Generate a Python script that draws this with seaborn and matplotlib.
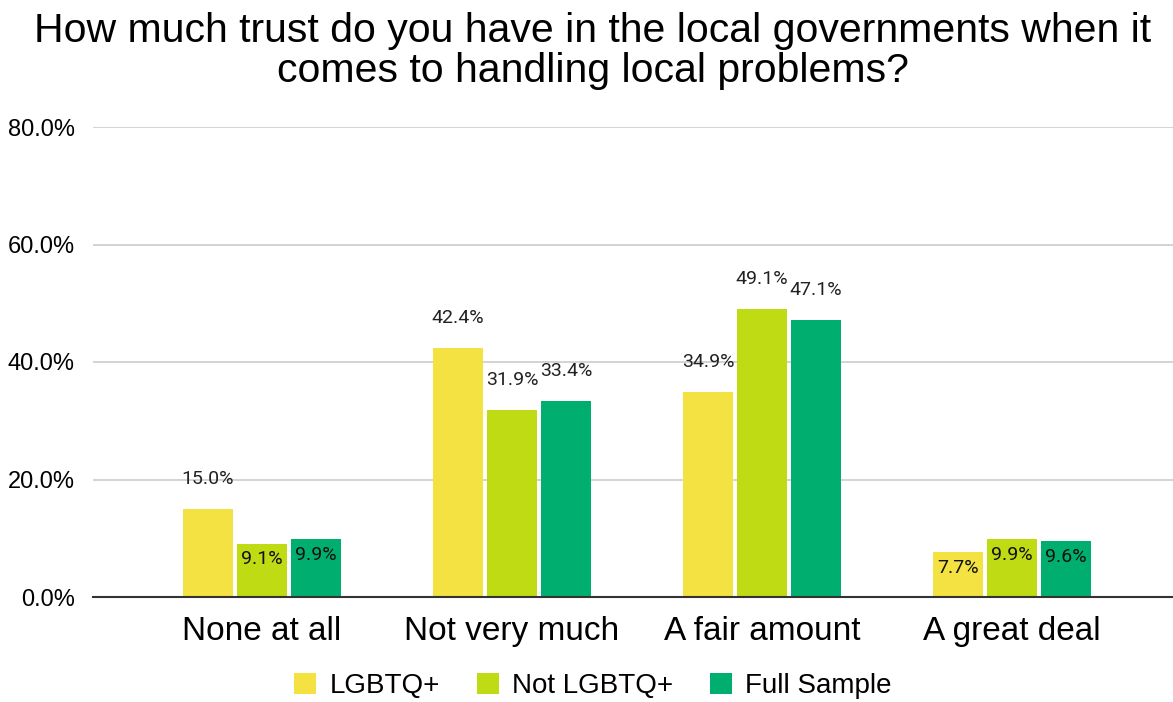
import matplotlib
matplotlib.use("Agg")
import matplotlib.pyplot as plt
import seaborn as sns
import pandas as pd
from matplotlib.ticker import FuncFormatter

categories = ["None at all", "Not very much", "A fair amount", "A great deal"]
series_names = ["LGBTQ+", "Not LGBTQ+", "Full Sample"]
lgbtq = [15.0, 42.4, 34.9, 7.7]
not_lgbtq = [9.1, 31.9, 49.1, 9.9]
full_sample = [9.9, 33.4, 47.1, 9.6]
colors = ["#F3E241", "#BFDB14", "#00AE6F"]

rows = []
for name, vals in zip(series_names, [lgbtq, not_lgbtq, full_sample]):
    for c, v in zip(categories, vals):
        rows.append({"cat": c, "group": name, "val": v})
df = pd.DataFrame(rows)

sns.set_theme(style="white")
plt.rcParams["font.family"] = ["Liberation Sans", "DejaVu Sans"]
plt.rcParams["text.color"] = "black"

fig = plt.figure(figsize=(11.73, 7.02), dpi=100)
ax = fig.add_axes([93/1173, 1-597/702, 1-93/1173, (597-127)/702])

sns.barplot(data=df, x="cat", y="val", hue="group", order=categories,
            hue_order=series_names, palette=colors, width=0.648, gap=0.074,
            saturation=1, ax=ax, legend=True, edgecolor="none")

ax.set_ylim(0, 80)
ax.set_xlim(-0.676, 3.644)
ax.set_yticks([0, 20, 40, 60, 80])
ax.yaxis.set_major_formatter(FuncFormatter(lambda v, p: f"{v:.1f}%"))
ax.grid(axis="y", color="#cccccc", linewidth=1.2)
ax.set_axisbelow(True)
for s in ["top", "right", "left"]:
    ax.spines[s].set_visible(False)
ax.spines["bottom"].set_color("#333333")
ax.spines["bottom"].set_linewidth(1.5)
ax.tick_params(axis="y", labelsize=17, pad=13, length=0, colors="black")
ax.tick_params(axis="x", labelsize=24, pad=14, length=0, colors="black")
ax.set_xlabel("")
ax.set_ylabel("")

for container in ax.containers:
    for bar in container:
        h = bar.get_height()
        x = bar.get_x() + bar.get_width()/2
        if h > 12:
            ax.annotate(f"{h:.1f}%", (x, h), xytext=(0, 15), textcoords="offset points",
                        ha="center", va="bottom", fontsize=14, family="Roboto", color="#222222")
        else:
            ax.annotate(f"{h:.1f}%", (x, h), xytext=(0, -5), textcoords="offset points",
                        ha="center", va="top", fontsize=14, family="Roboto", color="#111111")

leg = ax.legend(loc="center", bbox_to_anchor=(593/1173, 1-686/702), bbox_transform=fig.transFigure,
                ncol=3, frameon=False, fontsize=20, handlelength=0.8, handleheight=0.8,
                columnspacing=1.33, handletextpad=0.47)
for t in leg.get_texts():
    t.set_color("black")

fig.text(593/1173, 1-51/702, "How much trust do you have in the local governments when it\ncomes to handling local problems?",
         ha="center", va="center", fontsize=29.5, linespacing=1.07, color="black")

fig.savefig("out.png", dpi=100)
